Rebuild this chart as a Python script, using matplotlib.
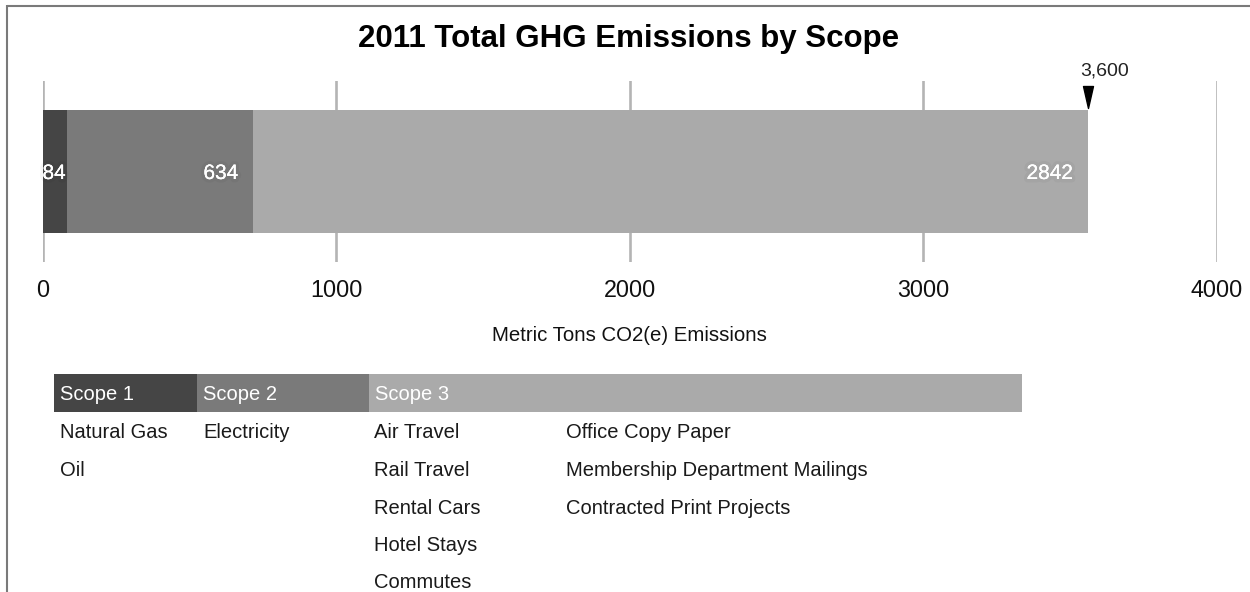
import matplotlib
matplotlib.use("Agg")
import matplotlib.pyplot as plt
import matplotlib.patheffects as pe
from matplotlib.patches import Rectangle
from matplotlib.path import Path

plt.rcParams["font.family"] = ["Liberation Sans", "DejaVu Sans"]

# ---- data ----
scopes = ["Scope 1", "Scope 2", "Scope 3"]
emissions = [84, 634, 2842]
scope_colors = ["#454545", "#7a7a7a", "#aaaaaa"]
x_ticks = [0, 1000, 2000, 3000, 4000]
x_label = "Metric Tons CO2(e) Emissions"
title = "2011 Total GHG Emissions by Scope"

scope1_sources = ["Natural Gas", "Oil"]
scope2_sources = ["Electricity"]
scope3_sources_a = ["Air Travel", "Rail Travel", "Rental Cars", "Hotel Stays", "Commutes"]
scope3_sources_b = ["Office Copy Paper", "Membership Department Mailings",
                    "Contracted Print Projects"]

W, H = 1250, 592
fig = plt.figure(figsize=(W / 100, H / 100), dpi=100)

def fx(px):
    return px / W

def fy(py):
    return 1 - py / H

# ---- main bar axes ----
ax_left, ax_right, ax_top, ax_bottom = 42.5, 1217, 81, 262
ax = fig.add_axes([fx(ax_left), fy(ax_bottom), (ax_right - ax_left) / W,
                   (ax_bottom - ax_top) / H])
ax.set_xlim(0, 4000)
ax.set_ylim(-0.5, 0.5)
for s in ax.spines.values():
    s.set_visible(False)
ax.set_yticks([])
ax.set_xticks(x_ticks)
ax.set_xticklabels([str(t) for t in x_ticks], fontsize=16.8, color="#111111")
ax.tick_params(axis="x", length=0, pad=25.2)
for lbl in ax.get_xticklabels():
    lbl.set_va("baseline")

for t in x_ticks:
    ax.axvline(t, color="#b4b4b4", lw=1.9, zorder=0)

bar_h = 123 / (ax_bottom - ax_top)
left = 0
segments = []
for val, col in zip(emissions, scope_colors):
    ax.barh(0, val, left=left, height=bar_h, color=col, zorder=2)
    segments.append((left, val))
    left += val
total = left

# soft dark glow behind the white value labels
glow = [pe.withStroke(linewidth=5, foreground=(0, 0, 0, 0.035)),
        pe.Normal()]
fig.canvas.draw()
renderer = fig.canvas.get_renderer()
for (start, val) in segments:
    txt = ax.annotate(str(val), xy=(start + val, 0), xytext=(-10.8, 0),
                      textcoords="offset points", ha="right", va="center_baseline",
                      color="white", fontsize=15, zorder=3, path_effects=glow)
    bb = txt.get_window_extent(renderer)
    seg_x0 = ax.transData.transform((start, 0))[0]
    if bb.x0 < seg_x0:
        txt.remove()
        ax.annotate(str(val), xy=(start, 0), xytext=(0, 0),
                    textcoords="offset points", ha="left", va="center_baseline",
                    color="white", fontsize=15, zorder=3, path_effects=glow)

# total marker
tri = Path([(-5, 11), (5, 11), (0, -11), (-5, 11)],
           [Path.MOVETO, Path.LINETO, Path.LINETO, Path.CLOSEPOLY])
marker_y = (ax_bottom - 96.5) / (ax_bottom - ax_top)
trans = ax.get_xaxis_transform()
ax.plot([total], [marker_y], marker=tri, markersize=15.8, color="black",
        transform=trans, clip_on=False, zorder=4, linestyle="none")
ax.annotate(f"{round(total, -2):,.0f}", xy=(total, marker_y), xycoords=trans,
            xytext=(12, 14.8), textcoords="offset points", ha="center",
            va="baseline", fontsize=14, color="#222222", annotation_clip=False)

ax.set_xlabel(x_label, fontsize=14.7, color="#111111")
ax.xaxis.set_label_coords(0.5, (ax_bottom - 341) / (ax_bottom - ax_top))
ax.xaxis.label.set_va("baseline")

# ---- overlay for title, frame and scope legend ----
ov = fig.add_axes([0, 0, 1, 1], zorder=-1)
ov.set_xlim(0, W)
ov.set_ylim(H, 0)
ov.axis("off")
ov.patch.set_alpha(0)

ov.plot([7, W], [5.8, 5.8], color="#7a7a7a", lw=1.5, solid_capstyle="butt")
ov.plot([7, 7], [5, H], color="#7a7a7a", lw=1.5, solid_capstyle="butt")

ov.text(629, 47.5, title, ha="center", va="baseline", fontsize=22.5,
        fontweight="bold", color="black")

band_top, band_bot = 374, 412
band_edges = [54, 197, 369, 1022]
for i, (name, col) in enumerate(zip(scopes, scope_colors)):
    x0, x1 = band_edges[i], band_edges[i + 1]
    ov.add_patch(Rectangle((x0, band_top), x1 - x0, band_bot - band_top,
                           facecolor=col, edgecolor="none"))
    ov.text(x0 + 6, 400.5, name, ha="left", va="baseline", fontsize=14.5,
            color="white")

row_base = 438.5
row_step = 37.5
columns = [(60, scope1_sources), (203, scope2_sources),
           (374, scope3_sources_a), (566, scope3_sources_b)]
for x, items in columns:
    for j, item in enumerate(items):
        ov.text(x, row_base + j * row_step, item, ha="left", va="baseline",
                fontsize=14.5, color="#1a1a1a")

fig.savefig("out.png", dpi=100)
